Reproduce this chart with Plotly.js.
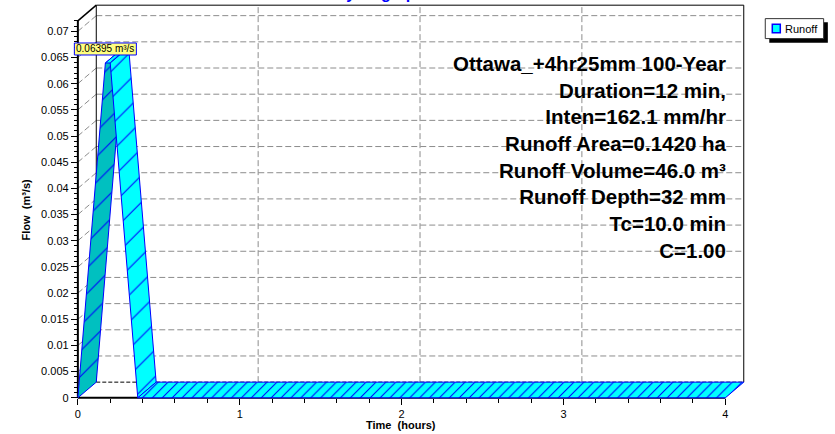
<!DOCTYPE html>
<html><head><meta charset="utf-8">
<script src="https://cdn.plot.ly/plotly-3.0.1.min.js"></script>
<style>html,body{margin:0;padding:0;background:#fff;overflow:hidden}</style>
</head><body><div id="chart" style="width:835px;height:434px"></div>
<script>
(function () {
// ---------------- data ----------------
const timeHours = [0, 0.17, 0.20, 0.37, 4.0];
const flowCms   = [0, 0.06395, 0.06395, 0, 0];
const peakLabel = '0.06395 m³/s';
const seriesName = 'Runoff';
const xTickVals = [0, 1, 2, 3, 4];
const xTickText = ['0', '1', '2', '3', '4'];
const yTickVals = [0, 0.005, 0.01, 0.015, 0.02, 0.025, 0.03, 0.035, 0.04, 0.045, 0.05, 0.055, 0.06, 0.065, 0.07];
const yTickText = ['0', '0.005', '0.01', '0.015', '0.02', '0.025', '0.03', '0.035', '0.04', '0.045', '0.05', '0.055', '0.06', '0.065', '0.07'];
const infoLines = ['Ottawa_+4hr25mm 100-Year', 'Duration=12 min,', 'Inten=162.1 mm/hr', 'Runoff Area=0.1420 ha',
                   'Runoff Volume=46.0 m³', 'Runoff Depth=32 mm', 'Tc=10.0 min', 'C=1.00'];
const chartTitle = 'Hydrograph';
const xTitle = 'Time\u00a0\u00a0(hours)';
const yTitle = 'Flow\u00a0\u00a0(m³/s)';

// ---------------- geometry / style ----------------
const W = 835, H = 434;
const FONT = 'Liberation Sans, Arial, Helvetica, sans-serif';
const X0PX = 78.3, PXPERHR = 161.7, Y0PX = 398.3, PXPERUNIT = 5247;
const XR = [-0.03, 4.14], YR = [-0.0008, 0.0756];
const pLeft = X0PX + XR[0] * PXPERHR, pRight = X0PX + XR[1] * PXPERHR;
const pBottom = Y0PX - YR[0] * PXPERUNIT, pTop = Y0PX - YR[1] * PXPERUNIT;
const DX = 18.4 / PXPERHR, DY = 15.7 / PXPERUNIT;   // depth offset of 3-D effect
const XEND = 4, YTOP = 0.072;
const px = v => (v - pLeft) / (pRight - pLeft);
const py = v => (pBottom - v) / (pBottom - pTop);

const faceStyle = {
  rise: {fill: '#00c0c0', size: 18, sol: 0.06},
  fall: {fill: '#00ffff', size: 19, sol: 0.055},
  flat: {fill: '#00ffff', size: 7, sol: 0.15}
};

// ---------------- ribbon traces ----------------
const traces = [];
for (let i = 0; i < timeHours.length - 1; i++) {
  const t0 = timeHours[i], t1 = timeHours[i + 1], q0 = flowCms[i], q1 = flowCms[i + 1];
  const kind = q1 > q0 ? 'rise' : (q1 < q0 ? 'fall' : 'flat');
  const st = faceStyle[kind];
  traces.push({
    type: 'scatter', mode: 'lines', name: seriesName, showlegend: false, hoverinfo: 'skip',
    x: [t0, t1, t1 + DX, t0 + DX, t0],
    y: [q0, q1, q1 + DY, q0 + DY, q0],
    fill: 'toself', fillcolor: st.fill,
    fillpattern: {shape: '/', bgcolor: st.fill, fgcolor: '#0000ff', size: st.size, solidity: st.sol},
    line: {color: '#0000ff', width: 1}
  });
}

// ---------------- shapes ----------------
const shapes = [];
const grid = {color: '#8c8c8c', width: 1, dash: '6px,3px'};
function ln(x0, y0, x1, y1, line, layer) {
  shapes.push({type: 'line', xref: 'x', yref: 'y', x0, y0, x1, y1, line, layer: layer || 'below'});
}
yTickVals.forEach(v => {
  if (v <= 0) return;
  ln(DX, v + DY, XEND + DX, v + DY, grid);
  ln(0, v, DX, v + DY, grid);
});
xTickVals.forEach(t => {
  if (t <= 0 || t >= XEND) return;
  ln(t + DX, DY, t + DX, YTOP + DY, grid);
});
ln(DX, DY, XEND + DX, DY, {color: '#000', width: 1, dash: '4px,2px'});
ln(0, 0, 0, YTOP, {color: '#000', width: 2});
ln(0, 0, XEND, 0, {color: '#000', width: 2});
ln(0, YTOP, DX, YTOP + DY, {color: '#000', width: 1.5});
ln(DX, DY, DX, YTOP + DY, {color: '#000', width: 1});
ln(DX, YTOP + DY, XEND + DX, YTOP + DY, {color: '#000', width: 1});
ln(XEND + DX, YTOP + DY, XEND + DX, DY, {color: '#000', width: 1});

// peak label box
let pk = 0;
flowCms.forEach((q, i) => { if (q > flowCms[pk]) pk = i; });
shapes.push({type: 'rect', xref: 'x', yref: 'y', xsizemode: 'pixel', ysizemode: 'pixel',
  xanchor: timeHours[pk], yanchor: flowCms[pk], x0: -31, x1: 31, y0: 8, y1: 20,
  fillcolor: '#ffff80', line: {color: '#0000ff', width: 1}, layer: 'above'});

// manual legend
function prect(x0, y0, x1, y1, fill, line) {
  shapes.push({type: 'rect', xref: 'paper', yref: 'paper', x0: px(x0), x1: px(x1), y0: py(y0), y1: py(y1),
    fillcolor: fill, line: line, layer: 'above'});
}
prect(769, 22, 827.5, 42.5, '#000', {width: 0});
prect(765, 18.3, 823.3, 38.3, '#fff', {color: '#333', width: 1});
prect(772, 24, 780, 32.5, '#00ffff', {color: '#0000ff', width: 1.5});

// ---------------- annotations ----------------
const annotations = [
  {xref: 'x', yref: 'y', x: timeHours[pk], y: flowCms[pk], yshift: 14, showarrow: false,
   text: peakLabel, font: {family: FONT, size: 10, color: '#000'}, xanchor: 'center', yanchor: 'middle'},
  {xref: 'paper', yref: 'paper', x: px(729), y: py(157), xanchor: 'right', yanchor: 'middle', align: 'right',
   showarrow: false, text: infoLines.map(s => '<b>' + s + '</b>').join('<br>'),
   font: {family: FONT, size: 20.5, color: '#000'}},
  {xref: 'paper', yref: 'paper', x: px(783), y: py(28.5), xanchor: 'left', yanchor: 'middle', showarrow: false,
   text: seriesName, font: {family: FONT, size: 11, color: '#000'}},
  {xref: 'paper', yref: 'paper', x: px(26), y: py(210), textangle: -90, xanchor: 'center', yanchor: 'middle',
   showarrow: false, text: '<b>' + yTitle + '</b>', font: {family: FONT, size: 11, color: '#000'}},
  {xref: 'paper', yref: 'paper', x: px(401.5), y: py(426), xanchor: 'center', yanchor: 'middle',
   showarrow: false, text: '<b>' + xTitle + '</b>', font: {family: FONT, size: 11, color: '#000'}}
];

const yMinor = [];
for (let k = 0; k <= 72; k++) yMinor.push(k / 1000);

const layout = {
  width: W, height: H, paper_bgcolor: '#fff', plot_bgcolor: 'rgba(0,0,0,0)',
  margin: {l: pLeft, r: W - pRight, t: pTop, b: H - pBottom, pad: 0, autoexpand: false},
  showlegend: false,
  title: {text: '<b>' + chartTitle + '</b>', font: {family: FONT, size: 16, color: '#0000ff'},
          x: 380 / W, xanchor: 'center', yref: 'container', y: 1, yanchor: 'bottom', pad: {b: 1}},
  xaxis: {range: XR, anchor: 'free', position: (0 - YR[0]) / (YR[1] - YR[0]),
          tickmode: 'array', tickvals: xTickVals, ticktext: xTickText,
          ticks: 'outside', ticklen: 6, tickwidth: 1, tickcolor: '#000',
          minor: {tickmode: 'linear', tick0: 0, dtick: 0.2, ticks: 'outside', ticklen: 4, tickcolor: '#000', showgrid: false},
          showgrid: false, zeroline: false, showline: false, fixedrange: true,
          tickfont: {family: FONT, size: 11, color: '#000'}},
  yaxis: {range: YR, anchor: 'free', position: (0 - XR[0]) / (XR[1] - XR[0]),
          tickmode: 'array', tickvals: yTickVals, ticktext: yTickText,
          ticks: 'outside', ticklen: 7, tickwidth: 1, tickcolor: '#000',
          minor: {tickmode: 'array', tickvals: yMinor, ticks: 'outside', ticklen: 4, tickcolor: '#000', showgrid: false},
          showgrid: false, zeroline: false, showline: false, fixedrange: true,
          tickfont: {family: FONT, size: 11, color: '#000'}},
  shapes: shapes, annotations: annotations
};

Plotly.newPlot('chart', traces, layout, {staticPlot: true, displayModeBar: false});
})();
</script></body></html>
